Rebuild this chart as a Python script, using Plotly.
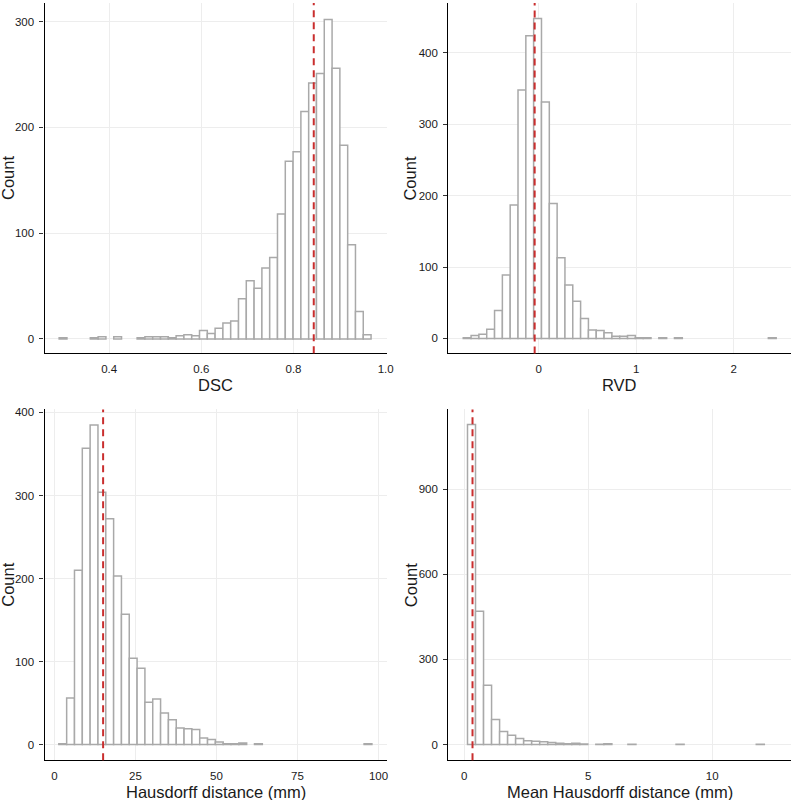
import numpy as np
import plotly.graph_objects as go

# ---------------- data ----------------
# DSC histogram: 40 bins
dsc_counts = [1, 0, 0, 0, 1, 2, 0, 2, 0, 0,
              1, 2, 2, 2, 1, 3, 4, 3, 8, 5,
              10, 15, 17, 38, 55, 48, 67, 77, 118, 168,
              177, 215, 242, 251, 302, 256, 183, 89, 26, 4]
dsc_first_center = 0.300
dsc_binwidth = 0.01692
dsc_mean = 0.844

# RVD histogram: 40 bins
rvd_counts = [1, 4, 6, 13, 39, 89, 187, 348, 424, 448,
              331, 189, 113, 75, 52, 28, 12, 11, 8, 3,
              3, 4, 1, 1, 0, 1, 0, 1, 0, 0,
              0, 0, 0, 0, 0, 0, 0, 0, 0, 1]
rvd_first_center = -0.7329
rvd_binwidth = 0.0802
rvd_mean = -0.041

# Hausdorff distance histogram: 40 bins
hd_counts = [1, 56, 210, 357, 385, 304, 272, 203, 157, 104,
             92, 51, 55, 38, 30, 20, 19, 18, 8, 6,
             3, 1, 1, 2, 0, 1, 0, 0, 0, 0,
             0, 0, 0, 0, 0, 0, 0, 0, 0, 1]
hd_first_center = 2.538
hd_binwidth = 2.416
hd_mean = 15.0

# Mean Hausdorff distance histogram: 37 bins
mhd_counts = [1128, 470, 209, 88, 46, 33, 21, 13, 12, 10,
              7, 5, 3, 5, 2, 0, 1, 3, 0, 0,
              1, 0, 0, 0, 0, 0, 1, 0, 0, 0,
              0, 0, 0, 0, 0, 0, 1]
mhd_first_center = 0.295
mhd_binwidth = 0.3235
mhd_mean = 0.335

x_titles = ["DSC", "RVD", "Hausdorff distance (mm)", "Mean Hausdorff distance (mm)"]
y_title = "Count"

dsc_xticks = [0.4, 0.6, 0.8, 1.0]
dsc_xticklabels = ["0.4", "0.6", "0.8", "1.0"]
dsc_yticks = [0, 100, 200, 300]
rvd_xticks = [0, 1, 2]
rvd_yticks = [0, 100, 200, 300, 400]
hd_xticks = [0, 25, 50, 75, 100]
hd_yticks = [0, 100, 200, 300, 400]
mhd_xticks = [0, 5, 10]
mhd_yticks = [0, 300, 600, 900]

# ---------------- figure ----------------
W, H = 798, 800
FONT = "Liberation Sans, Arial, sans-serif"
BAR_LINE = "#A9A9A9"
MEAN_COLOR = "#C92E2E"
GRID = "#EDEDED"

panels = [
    dict(counts=dsc_counts, c0=dsc_first_center, w=dsc_binwidth, mean=dsc_mean,
         xr=[0.260, 1.002], yr=[-13.5, 317.6], xt=dsc_xticks, xtl=dsc_xticklabels, yt=dsc_yticks,
         xdom=[45, 390], ydom=[0, 351.5]),
    dict(counts=rvd_counts, c0=rvd_first_center, w=rvd_binwidth, mean=rvd_mean,
         xr=[-0.926, 2.587], yr=[-20.9, 469.8], xt=rvd_xticks, xtl=None, yt=rvd_yticks,
         xdom=[452.3, 798], ydom=[0, 351.7]),
    dict(counts=hd_counts, c0=hd_first_center, w=hd_binwidth, mean=hd_mean,
         xr=[-3.06, 102.5], yr=[-18.8, 403.6], xt=hd_xticks, xtl=None, yt=hd_yticks,
         xdom=[45, 390], ydom=[408, 760]),
    dict(counts=mhd_counts, c0=mhd_first_center, w=mhd_binwidth, mean=mhd_mean,
         xr=[-0.64, 13.18], yr=[-55, 1181], xt=mhd_xticks, xtl=None, yt=mhd_yticks,
         xdom=[452.3, 798], ydom=[408, 760]),
]

fig = go.Figure()
layout = dict(
    width=W, height=H,
    margin=dict(l=0, r=0, t=0, b=0),
    paper_bgcolor="white", plot_bgcolor="white",
    showlegend=False,
    font=dict(family=FONT, color="#1a1a1a"),
    shapes=[], annotations=[],
)

for i, p in enumerate(panels):
    n = i + 1
    xa = "x" if n == 1 else f"x{n}"
    ya = "y" if n == 1 else f"y{n}"
    centers = p["c0"] + p["w"] * np.arange(len(p["counts"]))
    counts = np.array(p["counts"])
    keep = counts > 0  # empty bins are not drawn
    fig.add_trace(go.Bar(
        x=centers[keep], y=counts[keep], width=p["w"],
        marker=dict(color="white", line=dict(color=BAR_LINE, width=1.5)),
        xaxis=xa, yaxis=ya, hoverinfo="x+y",
    ))
    xdom = [p["xdom"][0] / W, p["xdom"][1] / W]
    ydom = [1 - p["ydom"][1] / H, 1 - p["ydom"][0] / H]
    xkey = "xaxis" if n == 1 else f"xaxis{n}"
    ykey = "yaxis" if n == 1 else f"yaxis{n}"
    xaxis = dict(
        domain=xdom, range=p["xr"], anchor=ya,
        tickmode="array", tickvals=p["xt"],
        showgrid=True, gridcolor=GRID, gridwidth=1.2, zeroline=False,
        showline=True, linecolor="black", linewidth=1.3,
        ticks="", ticklabelstandoff=5,
        tickfont=dict(size=11.5, color="#1a1a1a", family=FONT),
    )
    if p["xtl"] is not None:
        xaxis["ticktext"] = p["xtl"]
    layout[xkey] = xaxis
    layout[ykey] = dict(
        domain=ydom, range=p["yr"], anchor=xa,
        tickmode="array", tickvals=p["yt"],
        showgrid=True, gridcolor=GRID, gridwidth=1.2, zeroline=False,
        showline=True, linecolor="black", linewidth=1.3,
        ticks="outside", ticklen=4, tickcolor="#333333", tickwidth=1,
        ticklabelstandoff=3,
        tickfont=dict(size=11.5, color="#1a1a1a", family=FONT),
    )
    # mean line
    layout["shapes"].append(dict(
        type="line", xref=xa, yref=f"{ya} domain",
        x0=p["mean"], x1=p["mean"], y0=0, y1=1,
        line=dict(color=MEAN_COLOR, width=2, dash="7px,5px"),
    ))
    # axis titles
    xc = (xdom[0] + xdom[1]) / 2
    xt_y = 1 - (p["ydom"][1] + 32) / H
    layout["annotations"].append(dict(
        text=x_titles[i], xref="paper", yref="paper", x=xc, y=xt_y,
        xanchor="center", yanchor="middle", showarrow=False,
        font=dict(size=16.5, color="#1a1a1a", family=FONT),
    ))
    yt_x = (8 if n in (1, 3) else 414) / W
    yc = 1 - (p["ydom"][0] + p["ydom"][1]) / 2 / H
    layout["annotations"].append(dict(
        text=y_title, xref="paper", yref="paper", x=yt_x, y=yc,
        xanchor="center", yanchor="middle", showarrow=False, textangle=-90,
        font=dict(size=16.5, color="#1a1a1a", family=FONT),
    ))

fig.update_layout(**layout)
fig.write_html(
    "out.html",
    config={"displayModeBar": False},
    post_script="document.body.style.margin='0';document.body.style.overflow='hidden';",
)
